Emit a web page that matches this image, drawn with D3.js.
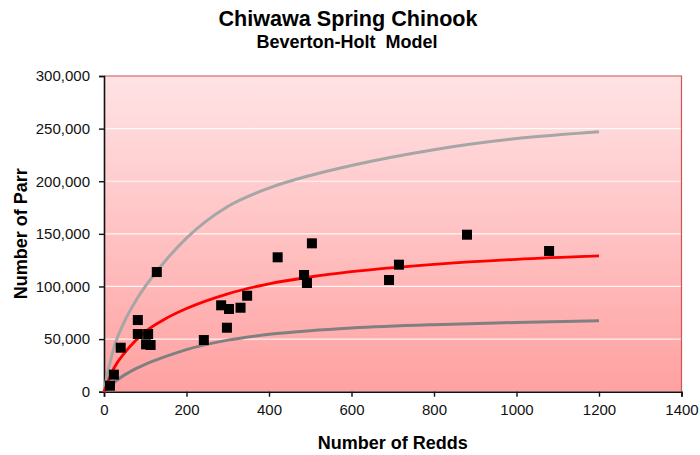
<!DOCTYPE html>
<html>
<head>
<meta charset="utf-8">
<script src="https://cdn.jsdelivr.net/npm/d3@7"></script>
<style>
  body { margin: 0; background: #fff; }
  svg { display: block; font-family: "Liberation Sans", Arial, sans-serif; }
</style>
</head>
<body>
<svg id="chart" width="700" height="455"></svg>
<script>
// observed redds / parr
const redds = [14.5, 24, 40.5, 82, 82, 107, 102, 113, 128, 242, 298, 284, 303, 331, 347, 421, 504, 485, 492, 691, 715, 880, 1079];
const parr = [5700, 16200, 41800, 68100, 54800, 54800, 45000, 44400, 113700, 49100, 60800, 82100, 78600, 79800, 91200, 127700, 141000, 110900, 103300, 106100, 120700, 149200, 133700];

// model curves
const curveRedds = [0, 10, 25, 50, 75, 100, 150, 200, 300, 400, 500, 600, 800, 1000, 1200];
const fitParr   = [0, 10000, 23000, 37000, 48000, 57000, 69500, 79000, 93000, 102500, 109000, 114000, 121000, 125800, 129000];
const upperParr = [0, 20000, 43000, 67000, 85000, 100000, 125000, 146000, 176000, 193500, 205500, 215000, 230000, 240500, 247000];
const lowerParr = [0, 4000, 9000, 16000, 21500, 26000, 33500, 40000, 49000, 54500, 58000, 60500, 63700, 65800, 67500];

const xTicks = [0, 200, 400, 600, 800, 1000, 1200, 1400];
const yTicks = [0, 50000, 100000, 150000, 200000, 250000, 300000];

const margin = { top: 76, right: 18.5, bottom: 63.3, left: 104 };
const W = 700, H = 455;

const svg = d3.select("#chart");

const x = d3.scaleLinear().domain([0, 1400]).range([margin.left, W - margin.right]);
const y = d3.scaleLinear().domain([0, 300000]).range([H - margin.bottom, margin.top]);

// background gradient
const grad = svg.append("defs").append("linearGradient")
  .attr("id", "bg").attr("x1", 0).attr("y1", 0).attr("x2", 0).attr("y2", 1);
grad.append("stop").attr("offset", "0%").attr("stop-color", "#ffe3e5");
grad.append("stop").attr("offset", "100%").attr("stop-color", "#ffa1a1");

svg.append("rect")
  .attr("x", x(0)).attr("y", y(300000))
  .attr("width", x(1400) - x(0)).attr("height", y(0) - y(300000))
  .attr("fill", "url(#bg)");

// gridlines
svg.append("g").selectAll("line")
  .data(yTicks.filter(d => d > 0 && d < 300000))
  .join("line")
  .attr("x1", x(0)).attr("x2", x(1400))
  .attr("y1", d => y(d)).attr("y2", d => y(d))
  .attr("stroke", "#fff").attr("stroke-opacity", 0.85).attr("stroke-width", 1.2);

// top and right border
svg.append("path")
  .attr("d", `M${x(0)},${y(300000)}H${x(1400)}V${y(0)}`)
  .attr("fill", "none").attr("stroke", "#cc5555").attr("stroke-width", 1.2);

// axes
const xAxis = svg.append("g")
  .attr("transform", `translate(0,${y(0)})`)
  .call(d3.axisBottom(x).tickValues(xTicks).tickSize(5).tickPadding(8).tickFormat(d3.format("d")));
const yAxis = svg.append("g")
  .attr("transform", `translate(${x(0)},0)`)
  .call(d3.axisLeft(y).tickValues(yTicks).tickSize(5).tickPadding(9).tickFormat(d3.format(",")));

[xAxis, yAxis].forEach(g => {
  g.select(".domain").attr("stroke", "#111").attr("stroke-width", 1.6);
  g.selectAll(".tick line").attr("stroke", "#111").attr("stroke-width", 1.4);
  g.selectAll(".tick text").attr("font-size", 15).attr("fill", "#111")
    .attr("font-family", "Liberation Sans, Arial, sans-serif");
});

// curves
const line = d3.line()
  .x((d, i) => x(curveRedds[i]))
  .y(d => y(d))
  .curve(d3.curveMonotoneX);

svg.append("path").datum(upperParr).attr("d", line)
  .attr("fill", "none").attr("stroke", "#a6a6a6").attr("stroke-width", 3);
svg.append("path").datum(lowerParr).attr("d", line)
  .attr("fill", "none").attr("stroke", "#808080").attr("stroke-width", 3);
svg.append("path").datum(fitParr).attr("d", line)
  .attr("fill", "none").attr("stroke", "#ff0000").attr("stroke-width", 2.8);

// points
const sz = 10;
svg.append("g").selectAll("rect")
  .data(redds)
  .join("rect")
  .attr("x", d => x(d) - sz / 2)
  .attr("y", (d, i) => y(parr[i]) - sz / 2)
  .attr("width", sz).attr("height", sz)
  .attr("fill", "#000");

// titles
svg.append("text")
  .attr("x", 348).attr("y", 26)
  .attr("text-anchor", "middle")
  .attr("font-size", 21.6).attr("font-weight", "bold")
  .text("Chiwawa Spring Chinook");
svg.append("text")
  .attr("x", 347).attr("y", 47.5)
  .attr("text-anchor", "middle")
  .attr("font-size", 18).attr("font-weight", "bold")
  .style("white-space", "pre")
  .text("Beverton-Holt  Model");

svg.append("text")
  .attr("x", (x(0) + x(1400)) / 2).attr("y", 449)
  .attr("text-anchor", "middle")
  .attr("font-size", 18).attr("font-weight", "bold")
  .text("Number of Redds");

svg.append("text")
  .attr("transform", `translate(27,${(y(0) + y(300000)) / 2}) rotate(-90)`)
  .attr("text-anchor", "middle")
  .attr("font-size", 18).attr("font-weight", "bold")
  .text("Number of Parr");
</script>
</body>
</html>
